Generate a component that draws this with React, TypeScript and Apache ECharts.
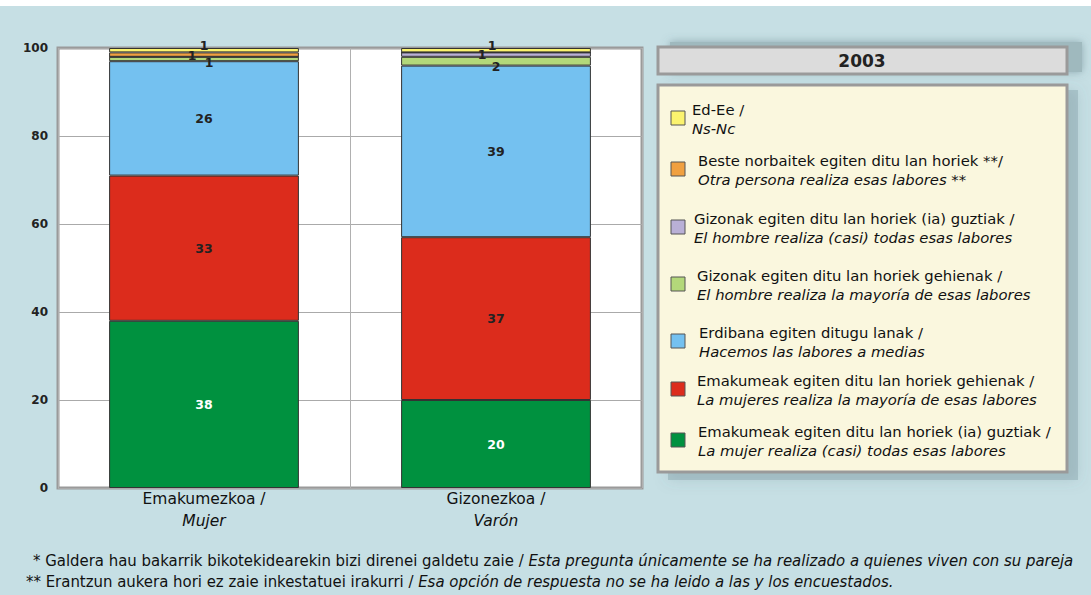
import React, { useEffect, useRef } from "react";
import * as echarts from "echarts";

const categoriesEu = ["Emakumezkoa /", "Gizonezkoa /"];
const categoriesEs = ["Mujer", "Varón"];
const yTicks = [0, 20, 40, 60, 80, 100];

const seriesNamesEu = [
  "Emakumeak egiten ditu lan horiek (ia) guztiak /",
  "Emakumeak egiten ditu lan horiek gehienak /",
  "Erdibana egiten ditugu lanak /",
  "Gizonak egiten ditu lan horiek gehienak /",
  "Gizonak egiten ditu lan horiek (ia) guztiak /",
  "Beste norbaitek egiten ditu lan horiek **/",
  "Ed-Ee /",
];
const seriesNamesEs = [
  "La mujer realiza (casi) todas esas labores",
  "La mujeres realiza la mayoría de esas labores",
  "Hacemos las labores a medias",
  "El hombre realiza la mayoría de esas labores",
  "El hombre realiza (casi) todas esas labores",
  "Otra persona realiza esas labores **",
  "Ns-Nc",
];
const emakumeAllValues = [38, 20];
const emakumeMostValues = [33, 37];
const halfValues = [26, 39];
const gizonMostValues = [1, 2];
const gizonAllValues = [0, 1];
const otherValues = [1, 0];
const nsncValues = [1, 1];
const seriesValues = [
  emakumeAllValues,
  emakumeMostValues,
  halfValues,
  gizonMostValues,
  gizonAllValues,
  otherValues,
  nsncValues,
];
const footnote1Eu = "* Galdera hau bakarrik bikotekidearekin bizi direnei galdetu zaie / ";
const footnote1Es = "Esta pregunta únicamente se ha realizado a quienes viven con su pareja";
const footnote2Eu = "** Erantzun aukera hori ez zaie inkestatuei irakurri / ";
const footnote2Es = "Esa opción de respuesta no se ha leido a las y los encuestados.";
const legendTitle = "2003";

// styles
const colors = ["#00913f", "#dc2c1c", "#74c1f0", "#b3d87a", "#b9b0d6", "#f0a040", "#fbf36e"];
const labelColors = ["#ffffff", "#222", "#222", "#222", "#222", "#222", "#222"];
// per series per category label offsets for the thin bands
const labelOffsets: Record<number, [number, number][]> = {
  3: [[5, 3], [0, 5]],
  4: [[0, 0], [-14, 0]],
  5: [[-12, 1], [0, 0]],
  6: [[0, -5], [-4, -5]],
};
// legend display order (top to bottom) and y centers
const legendOrder = [6, 5, 4, 3, 2, 1, 0];
const legendY = [118, 169, 227, 284, 341, 389, 440];
const legendTextX = [692, 698, 694, 697, 699, 697, 698];

const FONT = "'DejaVu Sans', Verdana, sans-serif";
const NARROW = "'DejaVu Sans Condensed', 'Liberation Sans Narrow', sans-serif";

export default function App() {
  const ref = useRef<HTMLDivElement>(null);
  useEffect(() => {
    if (!ref.current) return;
    const chart = echarts.init(ref.current, undefined, { renderer: "svg" });

    const series = seriesValues.map((vals, si) => ({
      name: seriesNamesEu[si],
      type: "bar",
      stack: "total",
      barWidth: "65%",
      itemStyle: { color: colors[si], borderColor: "#333", borderWidth: 1 },
      data: vals.map((v, ci) => {
        const off = labelOffsets[si] ? labelOffsets[si][ci] : [0, 0];
        return {
          value: v,
          label: {
            show: v > 0,
            position: "inside",
            offset: off,
            color: labelColors[si],
            fontFamily: FONT,
            fontWeight: "bold",
            fontSize: 12.5,
          },
        };
      }),
    }));

    const graphic: any[] = [
      { type: "rect", shape: { x: 0, y: 0, width: 1091, height: 6 }, style: { fill: "#ffffff" }, z: 0 },
      // title shadow
      {
        type: "rect",
        shape: { x: 670, y: 42, width: 412, height: 30 },
        style: { fill: "#9fb9be", shadowBlur: 8, shadowColor: "rgba(80,110,120,0.5)" },
        z: 1,
      },
      {
        type: "rect",
        shape: { x: 658, y: 47, width: 409, height: 27 },
        style: { fill: "#dcdcdc", stroke: "#9a9a9a", lineWidth: 3 },
        z: 2,
      },
      {
        type: "text",
        x: 862,
        y: 61,
        style: {
          text: legendTitle,
          fill: "#222",
          font: `bold 17px ${FONT}`,
          align: "center",
          verticalAlign: "middle",
        },
        z: 3,
      },
      // legend box shadow
      {
        type: "rect",
        shape: { x: 668, y: 90, width: 410, height: 390 },
        style: { fill: "rgba(120,150,158,0.35)", shadowBlur: 14, shadowColor: "rgba(80,110,120,0.5)" },
        z: 1,
      },
      {
        type: "rect",
        shape: { x: 658, y: 85, width: 409, height: 387 },
        style: { fill: "#faf7de", stroke: "#9a9a9a", lineWidth: 3 },
        z: 2,
      },
      {
        type: "text",
        x: 33,
        y: 560,
        style: {
          text: `{a|${footnote1Eu}}{b|${footnote1Es}}`,
          verticalAlign: "middle",
          rich: {
            a: { font: `16.6px ${NARROW}`, fill: "#111" },
            b: { font: `italic 16.6px ${NARROW}`, fill: "#111" },
          },
        },
      },
      {
        type: "text",
        x: 26,
        y: 581,
        style: {
          text: `{a|${footnote2Eu}}{b|${footnote2Es}}`,
          verticalAlign: "middle",
          rich: {
            a: { font: `16.6px ${NARROW}`, fill: "#111" },
            b: { font: `italic 16.6px ${NARROW}`, fill: "#111" },
          },
        },
      },
    ];
    legendOrder.forEach((si, i) => {
      const cy = legendY[i];
      graphic.push({
        type: "rect",
        shape: { x: 671, y: cy - 7, width: 14, height: 14 },
        style: { fill: colors[si], stroke: "#555", lineWidth: 1 },
        z: 3,
      });
      graphic.push({
        type: "text",
        x: legendTextX[i],
        y: cy - 9,
        style: { text: seriesNamesEu[si], font: `14.8px ${FONT}`, fill: "#111", verticalAlign: "middle" },
        z: 3,
      });
      graphic.push({
        type: "text",
        x: legendTextX[i],
        y: cy + 10,
        style: { text: seriesNamesEs[si], font: `italic 14.8px ${FONT}`, fill: "#111", verticalAlign: "middle" },
        z: 3,
      });
    });

    chart.setOption({
      animation: false,
      backgroundColor: "#c6dfe4",
      grid: {
        left: 58,
        right: 449,
        top: 48,
        bottom: 107,
        show: true,
        backgroundColor: "#ffffff",
        borderColor: "#9a9a9a",
        borderWidth: 3,
      },
      xAxis: {
        type: "category",
        data: categoriesEu.map((c, i) => `${c}\n${categoriesEs[i]}`),
        axisLine: { show: false },
        axisTick: { show: false },
        splitLine: { show: true, lineStyle: { color: "#b0b0b0", width: 1 } },
        axisLabel: {
          margin: 0,
          formatter: (v: string) => {
            const [a, b] = v.split("\n");
            return `{a|${a}}\n{b|${b}}`;
          },
          rich: {
            a: { fontFamily: FONT, fontSize: 15.5, color: "#111", lineHeight: 22 },
            b: { fontFamily: FONT, fontSize: 15.5, fontStyle: "italic", color: "#111", lineHeight: 22 },
          },
        },
      },
      yAxis: {
        type: "value",
        min: yTicks[0],
        max: yTicks[yTicks.length - 1],
        interval: 20,
        axisLine: { show: false },
        axisTick: { show: false },
        splitLine: { show: true, lineStyle: { color: "#aaaaaa", width: 1 } },
        axisLabel: { fontFamily: FONT, fontSize: 12, fontWeight: "bold", color: "#222", margin: 10 },
      },
      series,
      graphic,
    });
    return () => chart.dispose();
  }, []);
  return (
    <div
      ref={ref}
      style={{ position: "fixed", left: 0, top: 0, width: 1091, height: 595 }}
    />
  );
}
